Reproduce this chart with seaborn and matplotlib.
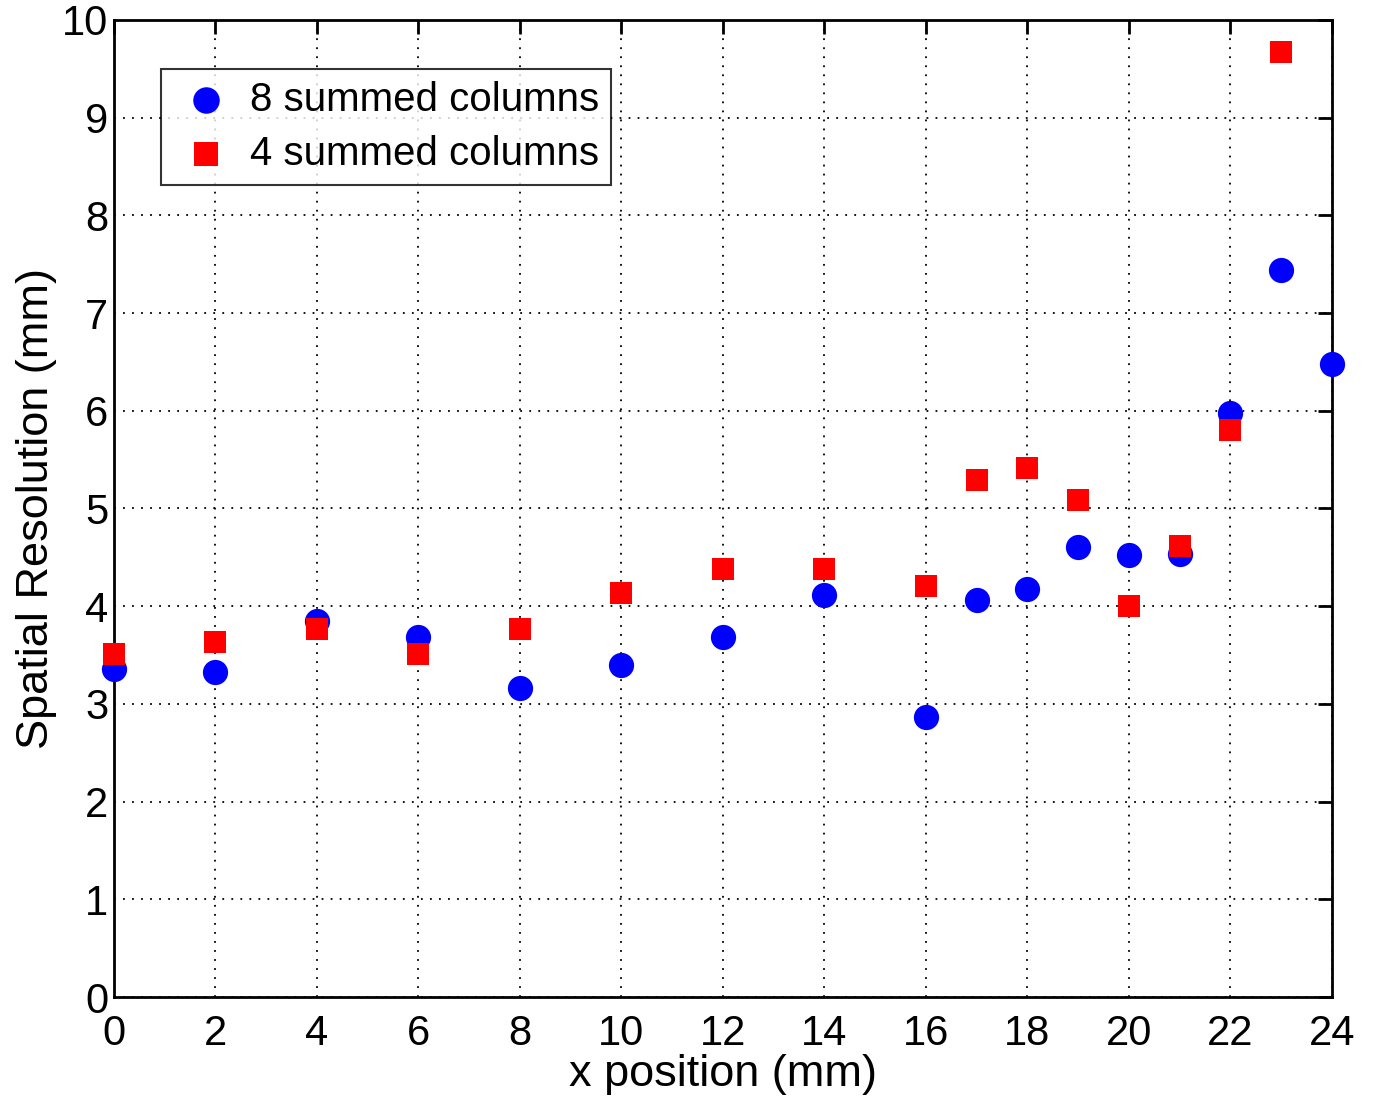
import numpy as np
import pandas as pd
import matplotlib
matplotlib.use("Agg")
import matplotlib.pyplot as plt
import seaborn as sns

# values
x8 = [0, 2, 4, 6, 8, 10, 12, 14, 16, 17, 18, 19, 20, 21, 22, 23, 24]
res8 = [3.36, 3.33, 3.85, 3.68, 3.16, 3.40, 3.68, 4.11, 2.87, 4.06, 4.18,
        4.61, 4.52, 4.53, 5.98, 7.44, 6.48]
x4 = [0, 2, 4, 6, 8, 10, 12, 14, 16, 17, 18, 19, 20, 21, 22, 23]
res4 = [3.51, 3.63, 3.77, 3.51, 3.77, 4.14, 4.38, 4.38, 4.21, 5.29, 5.41,
        5.09, 4.00, 4.62, 5.80, 9.67]
labels = ["8 summed columns", "4 summed columns"]

df = pd.concat([
    pd.DataFrame({"x": x8, "res": res8, "series": labels[0]}),
    pd.DataFrame({"x": x4, "res": res4, "series": labels[1]}),
])

sns.set_style("white")
plt.rcParams["font.family"] = ["Liberation Sans", "DejaVu Sans"]
plt.rcParams["text.color"] = "black"
plt.rcParams["axes.labelcolor"] = "black"
plt.rcParams["xtick.color"] = "black"
plt.rcParams["ytick.color"] = "black"

fig = plt.figure(figsize=(13.76, 10.96), dpi=100)
ax = fig.add_axes([0.0828, 0.0903, 0.8852, 0.8915])

sns.scatterplot(data=df[df.series == labels[0]], x="x", y="res", color="#0000ff",
                marker="o", s=330, linewidth=0, ax=ax, label=labels[0],
                zorder=3, clip_on=False)
sns.scatterplot(data=df[df.series == labels[1]], x="x", y="res", color="#ff0000",
                marker="s", s=250, linewidth=0, ax=ax, label=labels[1],
                zorder=4, clip_on=False)

ax.set_xlim(0, 24)
ax.set_ylim(0, 10)
ax.set_xticks(np.arange(0, 25, 2))
ax.set_yticks(np.arange(0, 11, 1))
ax.grid(True, color="black", linestyle=(0, (1, 4)), linewidth=1.3)
ax.tick_params(direction="in", length=10, width=2, labelsize=30,
               top=True, right=True)
ax.tick_params(axis="x", pad=12)
ax.tick_params(axis="y", pad=4)
for sp in ax.spines.values():
    sp.set_linewidth(2)
    sp.set_color("black")
    sp.set_visible(True)

ax.set_xlabel("x position (mm)", fontsize=32.5, labelpad=0)
ax.set_ylabel("Spatial Resolution (mm)", fontsize=32.5, labelpad=4)

leg = ax.legend(loc="upper left", bbox_to_anchor=(0.039, 0.95), fontsize=29,
                frameon=True, fancybox=False, handletextpad=0.3,
                borderpad=0.3, labelspacing=0.4, markerscale=1.05,
                handlelength=1.6, borderaxespad=0)
leg.get_frame().set_edgecolor("black")
leg.get_frame().set_linewidth(1.5)

fig.savefig("out.png", dpi=100)
